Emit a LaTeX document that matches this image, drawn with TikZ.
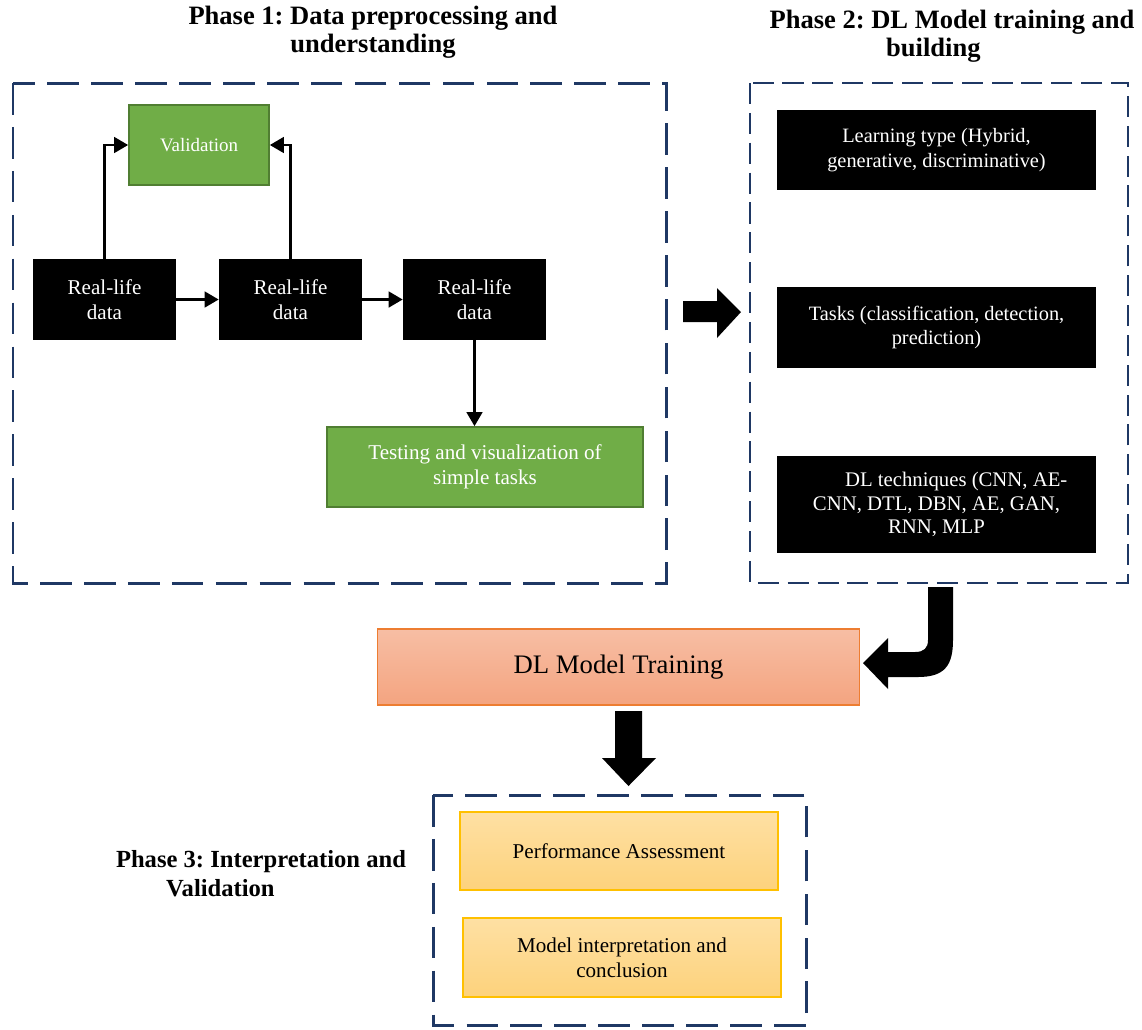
\documentclass[tikz,border=0pt]{standalone}
\usepackage{fontspec}
\setmainfont{Liberation Serif}
\usetikzlibrary{arrows.meta}

\definecolor{navy}{HTML}{1F3864}
\definecolor{leaf}{HTML}{70AD47}
\definecolor{leafdark}{HTML}{507E32}
\definecolor{salmon}{HTML}{ED7D31}
\definecolor{salmontop}{HTML}{F7BEA4}
\definecolor{salmonbot}{HTML}{F4A480}
\definecolor{gold}{HTML}{FFC000}
\definecolor{goldtop}{HTML}{FEE0A3}
\definecolor{goldbot}{HTML}{FDD27C}

\frenchspacing
\begin{document}
\begin{tikzpicture}[
  x=0.02cm, y=-0.02cm,
  phase/.style={draw=navy,line width=1.7pt,dash pattern=on 18pt off 7pt},
  phasethin/.style={draw=navy,line width=1.1pt,dash pattern=on 12pt off 5pt},
  title/.style={font=\bfseries\fontsize{15.1}{15.9}\selectfont,align=center},
  darkbox/.style={fill=black,text=white,align=center,inner sep=0pt,
    font=\fontsize{12}{14.2}\selectfont},
  greenbox/.style={draw=leafdark,line width=1pt,fill=leaf,text=white,align=center,
    inner sep=0pt,font=\fontsize{12}{14.2}\selectfont},
  trainbox/.style={draw=salmon,line width=0.6pt,top color=salmontop,
    bottom color=salmonbot,inner sep=0pt,font=\fontsize{15.2}{18}\selectfont},
  assessbox/.style={draw=gold,line width=0.8pt,top color=goldtop,bottom color=goldbot,
    align=center,inner sep=0pt,font=\fontsize{12}{14.2}\selectfont},
  link/.style={line width=1.3pt,-{Triangle[length=8pt,width=9pt]}}
]
  \useasboundingbox (0,0) rectangle (1142,1029);

  % phase frames and titles
  \draw[phase] (13,83) rectangle (666,583);
  \draw[phasethin] (750,83) rectangle (1128,583);
  \draw[phase] (433,795) rectangle (806,1025);
  \node[title] (t1) at (373,32) {Phase 1: Data preprocessing and\\understanding};
  \node[title] (t2) at (952,36) {Phase 2: DL Model training and\\building\hspace*{1.4em}};
  \node[title,font=\bfseries\fontsize{14}{16.4}\selectfont] (t3) at (261,874)
    {Phase 3: Interpretation and\\Validation\hspace*{3.3em}};

  % phase 1
  \node[greenbox,minimum width=2.8cm,minimum height=1.6cm,
    font=\fontsize{10.8}{12}\selectfont] (val) at (199,145) {Validation};
  \node[darkbox,minimum width=2.86cm,minimum height=1.62cm] (real1) at (104.5,299.5) {Real-life\\data};
  \node[darkbox,minimum width=2.86cm,minimum height=1.62cm] (real2) at (290.5,299.5) {Real-life\\data};
  \node[darkbox,minimum width=2.86cm,minimum height=1.62cm] (real3) at (474.5,299.5) {Real-life\\data};
  \node[greenbox,minimum width=6.32cm,minimum height=1.6cm] (test) at (485,467)
    {Testing and visualization of\\simple tasks};

  \draw[link] (real1) -- (real2);
  \draw[link] (real2) -- (real3);
  \draw[link] (real1.north) |- (val.west);
  \draw[link] (real2.north) |- (val.east);
  \draw[link] (real3.south) -- (real3.south |- test.north);

  % phase 2
  \node[darkbox,minimum width=6.38cm,minimum height=1.6cm,
    font=\fontsize{11.6}{14.2}\selectfont] (learn) at (936.5,150)
    {Learning type (Hybrid,\\generative, discriminative)};
  \node[darkbox,minimum width=6.38cm,minimum height=1.62cm,
    font=\fontsize{11.6}{14.2}\selectfont] (tasks) at (936.5,327.5)
    {Tasks (classification, detection,\\prediction)};
  \node[darkbox,minimum width=6.38cm,minimum height=1.94cm,
    font=\fontsize{11.8}{13.2}\selectfont] (tech) at (936.5,504.5)
    {\hspace*{1.9em}DL techniques (CNN, AE-\\CNN, DTL, DBN, AE, GAN,\\RNN, MLP};

  % training and phase 3
  \node[trainbox,minimum width=9.66cm,minimum height=1.52cm] (train) at (618.5,667) {DL Model Training};
  \node[assessbox,minimum width=6.36cm,minimum height=1.56cm] (perf) at (619,851) {Performance Assessment};
  \node[assessbox,minimum width=6.36cm,minimum height=1.58cm] (interp) at (622,957.5)
    {Model interpretation and\\conclusion};

  % block arrows
  \fill (683,301) -- (717,301) -- (717,288) -- (741,312) -- (717,338) -- (717,322)
    -- (683,322) -- cycle;
  \fill (928,587) -- (953,587) -- (953,640) .. controls (953,665) and (945,677) .. (918,677)
    -- (888,677) -- (888,689) -- (863,663) -- (888,638) -- (888,652) -- (915,652)
    .. controls (924,652) and (928,648) .. (928,640) -- cycle;
  \fill (615,711) -- (642,711) -- (642,758) -- (656,758) -- (628.5,786) -- (602,758)
    -- (615,758) -- cycle;
\end{tikzpicture}
\end{document}
